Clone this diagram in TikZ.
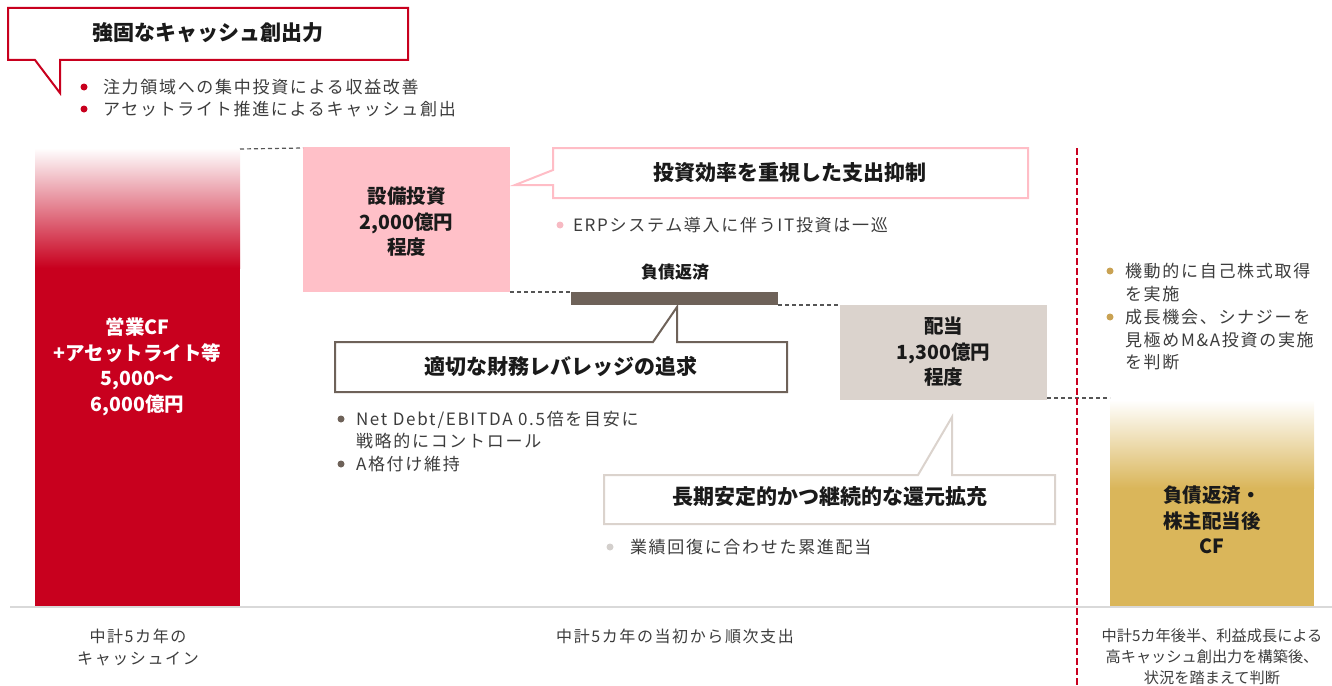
\documentclass[tikz,border=0pt]{standalone}
\usepackage{fontspec}
\setmainfont{Noto Sans CJK JP}
\newfontfamily\jpw{Noto Sans CJK JP}[LetterSpace=10]
\definecolor{cfred}{HTML}{C8001E}
\definecolor{pinkbox}{HTML}{FFC0C8}
\definecolor{pinkline}{HTML}{FFBDC6}
\definecolor{pinkdot}{HTML}{F7BAC3}
\definecolor{brown}{HTML}{6E6259}
\definecolor{beige}{HTML}{DBD3CD}
\definecolor{gold}{HTML}{DAB65A}
\definecolor{golddot}{HTML}{C9A253}
\definecolor{txtdark}{HTML}{1A1A1A}
\definecolor{txtgray}{HTML}{3C3C3C}
\definecolor{lightdot}{HTML}{D3CFCC}
\definecolor{baselngray}{HTML}{D9D9D9}
\definecolor{dashgray}{HTML}{555555}
\begin{document}
\begin{tikzpicture}[x=1pt,y=-1pt,
  every node/.style={inner sep=0pt, outer sep=0pt},
  ttl/.style={font=\fontsize{21}{25}\selectfont\bfseries, text=txtdark},
  bul/.style={font=\jpw\fontsize{17}{22.5}\selectfont, text=txtgray, anchor=west, align=left},
  barlbl/.style={font=\fontsize{19.5}{25.5}\selectfont\bfseries, align=center, text=txtdark},
  btm/.style={font=\jpw\fontsize{16}{22}\selectfont, text=txtgray, align=center},
  dashline/.style={draw=dashgray, line width=1.2pt, dash pattern=on 4pt off 3pt},
  callout/.style={fill=white, line width=2pt, line join=miter},
  box/.style={anchor=north west, draw=none}
]
\useasboundingbox (0,0) rectangle (1332,685);
\clip (0,0) rectangle (1332,685);

% floor line
\draw[draw=baselngray, line width=2pt] (10,607) -- (1332,607);

% --- top callout
\draw[callout, draw=cfred] (8,8) -- (408,8) -- (408,60) -- (60,60) -- (60,93) -- (35,60) -- (8,60) -- cycle;
\node[ttl] (t1) at (208,33) {強固なキャッシュ創出力};
\fill[cfred] (84,87) circle (3.5pt);
\fill[cfred] (84,109) circle (3.5pt);
\node[bul] (b1) at (103,87) {注力領域への集中投資による収益改善};
\node[bul] (b2) at (103,109) {アセットライト推進によるキャッシュ創出};

% --- red CF bar
\node[box, minimum width=205pt, minimum height=458pt] (cfbar) at (35,148) {};
\shade[top color=white, bottom color=cfred] (35,148) rectangle (240,268);
\fill[cfred] (35,267.5) rectangle (240,606);
\node[barlbl, text=white] (cflbl) at (137.5,367) {営業CF\\+アセットライト等\\5,000〜\\6,000億円};

% --- capex box
\node[box, fill=pinkbox, minimum width=207pt, minimum height=145pt] (capex) at (303,147) {};
\node[barlbl] (capexlbl) at (406.5,222) {設備投資\\2,000億円\\程度};

% --- debt bar
\node[box, fill=brown, minimum width=207pt, minimum height=13pt] (debt) at (571,292) {};
\node[font=\fontsize{17}{20}\selectfont\bfseries, text=txtdark] (debtlbl) at (675,272) {負債返済};

% --- dividend box
\node[box, fill=beige, minimum width=207pt, minimum height=95pt] (div) at (840,305) {};
\node[barlbl] (divlbl) at (943.5,352) {配当\\1,300億円\\程度};

% --- gold bar
\node[box, minimum width=204pt, minimum height=206pt] (goldbar) at (1110,400) {};
\shade[top color=white, bottom color=gold] (1110,400) rectangle (1314,488);
\fill[gold] (1110,487.5) rectangle (1314,606);
\node[barlbl] (goldlbl) at (1212,520) {負債返済・\\株主配当後\\CF};

% --- dashed connectors
\draw[dashline] ([yshift=-1pt]cfbar.north east) -- ([yshift=-1pt]capex.north west);
\draw[dashline] (capex.south east) -- (debt.north west);
\draw[dashline] (debt.south east) -- (div.north west);
\draw[dashline] ([yshift=2pt]div.south east) -- ([yshift=2pt]goldbar.north west);

% --- red vertical dashed line
\draw[cfred, line width=2pt, dash pattern=on 7pt off 3pt] (1077,148) -- (1077,685);

% --- pink callout
\draw[callout, draw=pinkline] (553,148) -- (1028,148) -- (1028,198) -- (553,198) -- (553,185) -- (515,185) -- (553,170) -- cycle;
\node[ttl] (t2) at (790,173) {投資効率を重視した支出抑制};
\fill[pinkdot] (560,225) circle (3.5pt);
\node[bul] (b3) at (573,225) {ERPシステム導入に伴うIT投資は一巡};

% --- brown callout
\draw[callout, draw=brown] (335,342) -- (653,342) -- (677,307) -- (677,342) -- (787,342) -- (787,392) -- (335,392) -- cycle;
\node[ttl] (t3) at (561,367) {適切な財務レバレッジの追求};
\fill[brown] (341,419) circle (3.5pt);
\fill[brown] (341,464) circle (3.5pt);
\node[bul] (b4) at (356,430) {Net Debt/EBITDA 0.5倍を目安に\\戦略的にコントロール};
\node[bul] (b5) at (356,464) {A格付け維持};

% --- beige callout
\draw[callout, draw=beige] (604,475) -- (918,475) -- (952,417) -- (952,475) -- (1055,475) -- (1055,524) -- (604,524) -- cycle;
\node[ttl] (t4) at (830,497) {長期安定的かつ継続的な還元拡充};
\fill[lightdot] (610,547) circle (3.5pt);
\node[bul] (b6) at (630,547) {業績回復に合わせた累進配当};

% --- right bullets
\fill[golddot] (1110,271) circle (3.5pt);
\fill[golddot] (1110,317) circle (3.5pt);
\node[bul] (b7) at (1125,282.5) {機動的に自己株式取得\\を実施};
\node[bul] (b8) at (1125,340) {成長機会、シナジーを\\見極めM\&A投資の実施\\を判断};

% --- bottom labels
\node[btm] (l1) at (138,647.5) {中計5カ年の\\キャッシュイン};
\node[btm] (l2) at (675,636) {中計5カ年の当初から順次支出};
\node[btm, font=\fontsize{15.2}{21}\selectfont] (l3) at (1212,657) {中計5カ年後半、利益成長による\\高キャッシュ創出力を構築後、\\状況を踏まえて判断};
\end{tikzpicture}
\end{document}
